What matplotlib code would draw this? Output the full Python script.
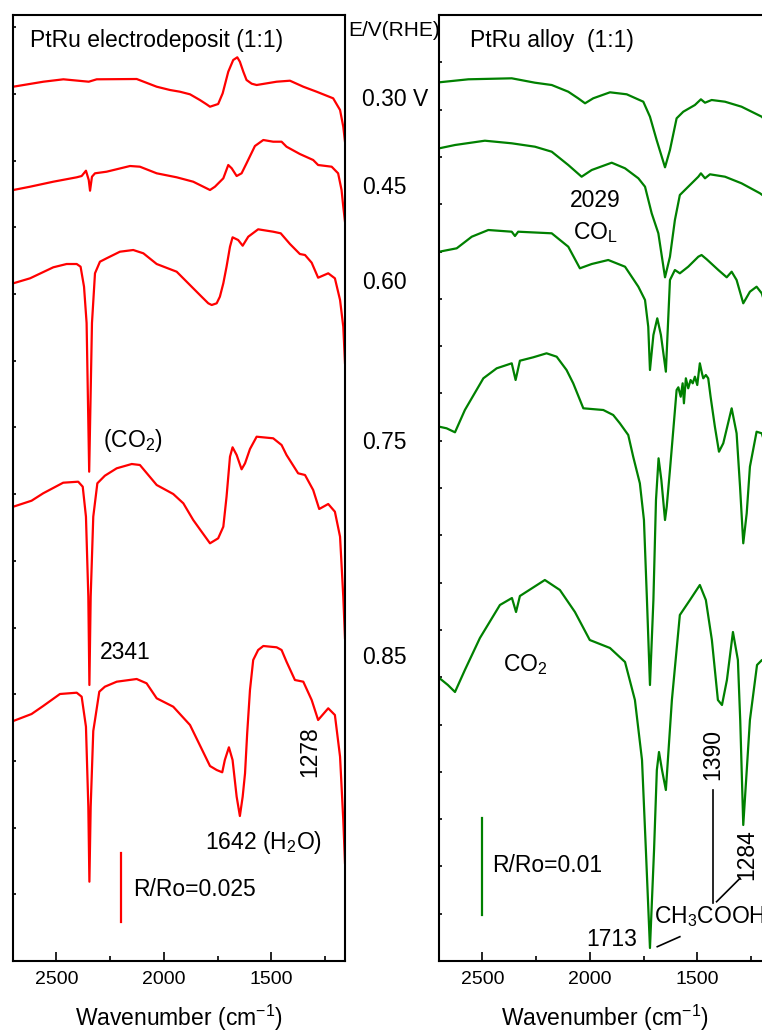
import numpy as np
import matplotlib.pyplot as plt
from matplotlib.ticker import MultipleLocator

plt.rcParams['font.family'] = ['Liberation Sans', 'DejaVu Sans']
plt.rcParams['mathtext.default'] = 'regular'

# ---- PtRu electrodeposit (1:1), offset spectra (arbitrary units) ----
wn_e030 = [2700, 2560, 2467, 2349, 2312, 2126, 2033, 1971, 1925, 1878, 1832, 1801, 1785, 1747,
           1726, 1700, 1677, 1658, 1646, 1630, 1615, 1591, 1568, 1475, 1413, 1351, 1289, 1212,
           1180, 1165, 1157]
r_e030 = [8.743, 8.793, 8.817, 8.793, 8.817, 8.82, 8.743, 8.71, 8.693, 8.667, 8.61, 8.567, 8.543,
          8.57, 8.677, 8.893, 9.01, 9.037, 8.993, 8.893, 8.81, 8.773, 8.76, 8.793, 8.803, 8.743,
          8.693, 8.627, 8.51, 8.343, 8.193]

wn_e045 = [2700, 2622, 2514, 2405, 2382, 2362, 2349, 2343, 2334, 2320, 2266, 2157, 2111, 2033,
           1940, 1863, 1785, 1762, 1723, 1700, 1684, 1661, 1638, 1615, 1576, 1537, 1491, 1452,
           1429, 1367, 1305, 1282, 1219, 1189, 1173, 1165, 1157]
r_e045 = [7.71, 7.743, 7.793, 7.837, 7.85, 7.903, 7.81, 7.703, 7.843, 7.877, 7.893, 7.95, 7.943,
          7.877, 7.837, 7.793, 7.71, 7.743, 7.827, 7.96, 7.927, 7.85, 7.877, 7.977, 8.15, 8.21,
          8.193, 8.193, 8.143, 8.07, 8.01, 7.96, 7.943, 7.877, 7.71, 7.543, 7.393]

wn_e060 = [2700, 2622, 2514, 2452, 2405, 2387, 2371, 2359, 2347, 2334, 2320, 2297, 2266, 2204,
           2142, 2095, 2033, 1940, 1863, 1824, 1793, 1777, 1754, 1739, 1723, 1708, 1692, 1680,
           1654, 1633, 1607, 1561, 1491, 1456, 1413, 1367, 1343, 1312, 1282, 1235, 1204, 1180,
           1165, 1157]
r_e060 = [6.777, 6.827, 6.937, 6.97, 6.97, 6.943, 6.743, 6.38, 4.893, 6.38, 6.877, 6.993, 7.027,
          7.093, 7.11, 7.077, 6.97, 6.893, 6.727, 6.643, 6.577, 6.56, 6.577, 6.643, 6.777, 6.943,
          7.143, 7.237, 7.21, 7.153, 7.243, 7.317, 7.293, 7.277, 7.17, 7.07, 7.06, 6.983, 6.833,
          6.877, 6.827, 6.61, 6.343, 5.98]

wn_e075 = [2700, 2615, 2561, 2468, 2398, 2377, 2362, 2351, 2346, 2340, 2328, 2309, 2274, 2219,
           2149, 2111, 2033, 1956, 1909, 1863, 1824, 1785, 1747, 1723, 1708, 1692, 1680, 1661,
           1638, 1622, 1599, 1568, 1491, 1452, 1429, 1375, 1343, 1305, 1277, 1235, 1204, 1180,
           1165, 1157]
r_e075 = [4.543, 4.603, 4.677, 4.783, 4.793, 4.743, 4.443, 3.643, 2.76, 3.643, 4.443, 4.777,
          4.853, 4.927, 4.97, 4.96, 4.76, 4.67, 4.577, 4.41, 4.293, 4.177, 4.227, 4.343, 4.643,
          5.043, 5.137, 5.06, 4.917, 4.977, 5.12, 5.243, 5.227, 5.16, 5.06, 4.877, 4.86, 4.71,
          4.52, 4.57, 4.493, 4.243, 3.643, 3.23]

wn_e085 = [2700, 2615, 2561, 2483, 2405, 2382, 2362, 2351, 2346, 2340, 2328, 2320, 2300, 2274,
           2219, 2126, 2080, 2033, 1956, 1878, 1785, 1754, 1728, 1716, 1697, 1680, 1661, 1646,
           1633, 1622, 1612, 1599, 1584, 1561, 1537, 1475, 1452, 1429, 1390, 1351, 1312, 1282,
           1235, 1204, 1180, 1165, 1157]
r_e085 = [2.4, 2.47, 2.55, 2.67, 2.683, 2.643, 2.343, 1.543, 0.793, 1.543, 2.3, 2.41, 2.693,
          2.743, 2.793, 2.82, 2.777, 2.627, 2.543, 2.36, 1.95, 1.91, 1.887, 2.01, 2.137, 2.01,
          1.643, 1.45, 1.643, 1.877, 2.277, 2.71, 3.01, 3.11, 3.15, 3.137, 3.11, 2.993, 2.81,
          2.793, 2.61, 2.41, 2.527, 2.46, 2.043, 1.41, 0.98]

# ---- PtRu alloy (1:1) ----
wn_a030 = [2700, 2565, 2363, 2255, 2177, 2100, 2054, 2022, 1984, 1906, 1828, 1751, 1720, 1689,
           1650, 1627, 1596, 1565, 1511, 1483, 1464, 1433, 1371, 1294, 1200, 1160]
r_a030 = [8.787, 8.817, 8.827, 8.783, 8.76, 8.693, 8.627, 8.577, 8.627, 8.687, 8.667, 8.593,
          8.443, 8.21, 7.937, 8.11, 8.427, 8.493, 8.56, 8.617, 8.583, 8.61, 8.593, 8.543, 8.443, 8.35]

wn_a045 = [2700, 2627, 2488, 2363, 2255, 2177, 2100, 2038, 1991, 1898, 1836, 1774, 1743, 1712,
           1681, 1650, 1627, 1604, 1581, 1542, 1495, 1483, 1464, 1441, 1371, 1294, 1208, 1160]
r_a045 = [8.127, 8.16, 8.203, 8.177, 8.143, 8.093, 7.96, 7.843, 7.91, 7.983, 7.927, 7.827,
          7.743, 7.477, 7.277, 6.837, 7.043, 7.41, 7.66, 7.743, 7.843, 7.877, 7.827, 7.867,
          7.843, 7.777, 7.677, 7.6]

wn_a060 = [2700, 2619, 2549, 2472, 2363, 2348, 2333, 2177, 2100, 2046, 1991, 1914, 1836, 1774,
           1743, 1728, 1720, 1704, 1686, 1669, 1646, 1627, 1604, 1581, 1542, 1495, 1480, 1456,
           1402, 1363, 1340, 1317, 1286, 1255, 1224, 1200, 1160]
r_a060 = [7.093, 7.127, 7.243, 7.31, 7.293, 7.25, 7.293, 7.277, 7.143, 6.927, 6.97, 7.01,
          6.943, 6.743, 6.61, 6.343, 5.91, 6.26, 6.427, 6.26, 5.893, 6.81, 6.91, 6.877, 6.943,
          7.043, 7.06, 7.017, 6.91, 6.837, 6.893, 6.81, 6.577, 6.693, 6.743, 6.677, 6.4]

wn_a075 = [2700, 2666, 2627, 2581, 2495, 2433, 2363, 2345, 2325, 2263, 2201, 2154, 2108, 2077,
           2030, 1937, 1891, 1860, 1821, 1798, 1767, 1748, 1734, 1720, 1704, 1692, 1680, 1667,
           1650, 1642, 1627, 1596, 1588, 1577, 1568, 1562, 1553, 1542, 1531, 1521, 1511, 1500,
           1488, 1478, 1472, 1460, 1449, 1438, 1418, 1399, 1379, 1340, 1317, 1301, 1286, 1270,
           1255, 1224, 1200, 1160]
r_a075 = [5.343, 5.327, 5.287, 5.51, 5.827, 5.927, 5.977, 5.81, 6.003, 6.037, 6.077, 6.043,
          5.91, 5.777, 5.527, 5.51, 5.46, 5.377, 5.26, 5.043, 4.777, 4.41, 3.61, 2.76, 3.61,
          4.61, 5.027, 4.81, 4.41, 4.543, 4.91, 5.71, 5.737, 5.643, 5.777, 5.577, 5.827, 5.727,
          5.81, 5.777, 5.843, 5.76, 5.977, 5.877, 5.827, 5.86, 5.827, 5.643, 5.343, 5.093,
          5.177, 5.527, 5.277, 4.743, 4.177, 4.477, 4.943, 5.293, 5.277, 5.0]

wn_a085 = [2700, 2660, 2627, 2581, 2511, 2418, 2362, 2343, 2325, 2209, 2139, 2069, 2000, 1906,
           1836, 1790, 1757, 1739, 1720, 1701, 1688, 1678, 1664, 1646, 1618, 1581, 1534, 1488,
           1460, 1432, 1404, 1385, 1362, 1334, 1311, 1300, 1286, 1270, 1255, 1222, 1199, 1160]
r_a085 = [2.83, 2.76, 2.69, 2.91, 3.23, 3.56, 3.63, 3.49, 3.65, 3.81, 3.71, 3.49, 3.21, 3.13,
          2.99, 2.61, 2.01, 1.11, 0.13, 1.11, 1.91, 2.09, 1.91, 1.71, 2.61, 3.46, 3.61, 3.76,
          3.61, 3.21, 2.61, 2.56, 2.81, 3.29, 3.01, 2.4, 1.36, 1.9, 2.41, 2.96, 3.01, 2.9]

potentials = ['0.30 V', '0.45', '0.60', '0.75', '0.85']

RED = '#ff0000'
GREEN = '#008000'
FS = 16.5

fig = plt.figure(figsize=(7.62, 10.35), dpi=100)
ax1 = fig.add_axes([0.01745, 0.0715, 0.4353, 0.9140])
ax2 = fig.add_axes([0.5765, 0.0715, 0.4353, 0.9140])

for wn, r in [(wn_e030, r_e030), (wn_e045, r_e045), (wn_e060, r_e060),
              (wn_e075, r_e075), (wn_e085, r_e085)]:
    ax1.plot(wn, r, color=RED, lw=1.6)
for wn, r in [(wn_a030, r_a030), (wn_a045, r_a045), (wn_a060, r_a060),
              (wn_a075, r_a075), (wn_a085, r_a085)]:
    ax2.plot(wn, r, color=GREEN, lw=1.6)

for ax, ystep in [(ax1, 0.667), (ax2, 0.473)]:
    ax.set_xlim(2700, 1157)
    ax.set_ylim(0, 9.46)
    ax.xaxis.set_major_locator(MultipleLocator(500))
    ax.xaxis.set_minor_locator(MultipleLocator(250))
    ax.set_yticks(np.arange(0, 9.46, ystep))
    ax.set_yticklabels([])
    ax.tick_params(axis='x', which='major', direction='in', length=6.5, width=1.2,
                   labelsize=14, pad=7)
    ax.tick_params(axis='x', which='minor', direction='in', length=3.5, width=1.2)
    ax.tick_params(axis='y', direction='in', length=2.5, width=1.2)
    for s in ax.spines.values():
        s.set_linewidth(1.5)
    ax.set_xlabel('Wavenumber (cm$^{-1}$)', fontsize=FS, labelpad=11)

# left panel annotations
ax1.text(2622, 9.21, 'PtRu electrodeposit (1:1)', fontsize=FS, va='center')
ax1.text(2283, 5.21, '(CO$_2$)', fontsize=FS, va='center')
ax1.text(2297, 3.09, '2341', fontsize=FS, va='center')
ax1.text(1809, 1.18, '1642 (H$_2$O)', fontsize=FS, va='center')
ax1.text(1320, 2.09, '1278', fontsize=FS, va='center', ha='center', rotation=90)
ax1.plot([2200, 2200], [0.39, 1.08], color=RED, lw=1.6)
ax1.text(2143, 0.71, 'R/Ro=0.025', fontsize=FS, va='center')

# right panel annotations
ax2.text(2557, 9.21, 'PtRu alloy  (1:1)', fontsize=FS, va='center')
ax2.text(1976, 7.61, '2029', fontsize=FS, va='center', ha='center')
ax2.text(1976, 7.28, 'CO$_L$', fontsize=FS, va='center', ha='center')
ax2.text(2404, 2.96, 'CO$_2$', fontsize=FS, va='center')
ax2.text(1427, 2.06, '1390', fontsize=FS, va='center', ha='center', rotation=90)
ax2.text(1269, 1.06, '1284', fontsize=FS, va='center', ha='center', rotation=90)
ax2.plot([1428, 1428], [0.58, 1.71], color='black', lw=1.2)
ax2.plot([1410, 1301], [0.593, 0.827], color='black', lw=1.2)
ax2.text(1701, 0.44, 'CH$_3$COOH', fontsize=FS, va='center')
ax2.text(1781, 0.21, '1713', fontsize=FS, va='center', ha='right')
ax2.plot([1686, 1581], [0.143, 0.243], color='black', lw=1.2)
ax2.plot([2500, 2500], [0.46, 1.43], color=GREEN, lw=1.6)
ax2.text(2455, 0.95, 'R/Ro=0.01', fontsize=FS, va='center')

# potential labels between the panels
fig.text(0.4567, 0.971, 'E/V(RHE)', fontsize=15, va='center')
for lab, yf in zip(potentials, [0.9034, 0.8193, 0.7266, 0.5720, 0.3652]):
    fig.text(0.475, yf, lab, fontsize=FS, va='center')

fig.savefig('out.png', dpi=100)
